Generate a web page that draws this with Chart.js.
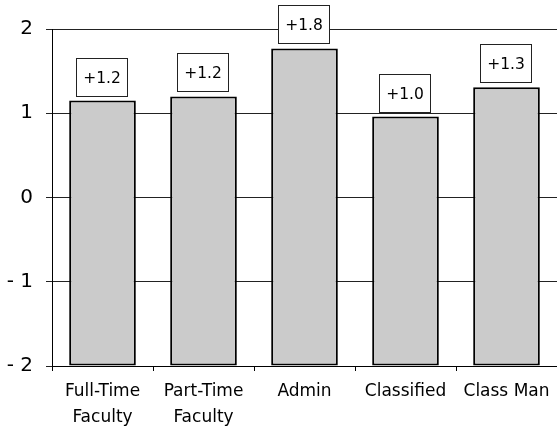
<!DOCTYPE html>
<html>
<head>
<meta charset="utf-8">
<script src="https://cdn.jsdelivr.net/npm/chart.js@4"></script>
<style>
  html, body { margin: 0; padding: 0; background: #fff; }
  #wrap { width: 557px; height: 428px; }
</style>
</head>
<body>
<div id="wrap"><canvas id="GroupChange"></canvas></div>
<script>
// Data block
const groups = [['Full-Time', 'Faculty'], ['Part-Time', 'Faculty'], 'Admin', 'Classified', 'Class Man'];
const changes = [1.15, 1.20, 1.77, 0.96, 1.31];
const changeLabels = ['+1.2', '+1.2', '+1.8', '+1.0', '+1.3'];
const yTickLabels = {'-2': '- 2', '-1': '- 1', '0': '0', '1': '1', '2': '2'};

const fontFamily = '"DejaVu Sans", sans-serif';

// Boxed value labels above each bar
const boxedLabels = {
    id: 'boxedLabels',
    afterDatasetsDraw(chart) {
        const ctx = chart.ctx;
        const meta = chart.getDatasetMeta(0);
        ctx.save();
        ctx.font = '15.5px ' + fontFamily;
        ctx.textAlign = 'center';
        ctx.textBaseline = 'middle';
        meta.data.forEach((bar, i) => {
            const txt = changeLabels[i];
            const w = Math.round(ctx.measureText(txt).width) + 13;
            const h = 38;
            const x = Math.round(bar.x - w / 2) - 0.5;
            const y = Math.round(bar.y - 5 - h) + 0.5;
            ctx.fillStyle = '#fff';
            ctx.fillRect(x, y, w, h);
            ctx.strokeStyle = '#222';
            ctx.lineWidth = 1;
            ctx.strokeRect(x, y, w, h);
            ctx.fillStyle = '#000';
            ctx.fillText(txt, x + w / 2, y + h / 2 + 1);
        });
        ctx.restore();
    }
};

const config = {
    type: 'bar',
    data: {
        labels: groups,
        datasets: [{
            data: changes,
            base: -2,
            backgroundColor: '#cbcbcb',
            borderColor: '#000',
            borderWidth: 2,
            borderSkipped: false,
            categoryPercentage: 1,
            barPercentage: 0.66
        }]
    },
    options: {
        responsive: true,
        maintainAspectRatio: false,
        animation: false,
        layout: { padding: { top: 29, right: 0, bottom: 0, left: 0 } },
        plugins: {
            legend: { display: false },
            tooltip: { enabled: false }
        },
        scales: {
            x: {
                grid: {
                    display: true,
                    drawOnChartArea: false,
                    drawTicks: true,
                    tickLength: 5,
                    color: '#000'
                },
                border: { display: true, color: '#000', width: 1 },
                ticks: {
                    color: '#000',
                    padding: 7,
                    font: { family: fontFamily, size: 17, lineHeight: 1.55 },
                    maxRotation: 0,
                    autoSkip: false
                },
                afterFit(scale) { scale.height = 62; }
            },
            y: {
                min: -2,
                max: 2,
                grid: {
                    color: '#222',
                    tickLength: 6,
                    drawTicks: true
                },
                border: { display: true, color: '#000', width: 1 },
                ticks: {
                    stepSize: 1,
                    color: '#000',
                    padding: 13,
                    font: { family: fontFamily, size: 20 },
                    callback: (v) => yTickLabels[String(v)]
                },
                afterFit(scale) { scale.width = 52; }
            }
        }
    },
    plugins: [boxedLabels]
};

const groupChart = new Chart(document.getElementById('GroupChange'), config);
</script>
</body>
</html>
